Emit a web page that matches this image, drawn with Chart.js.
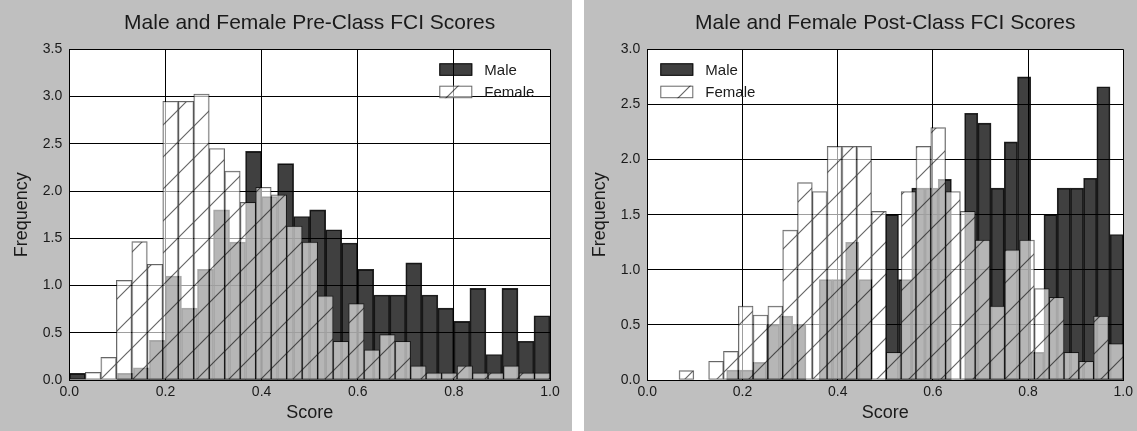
<!DOCTYPE html>
<html>
<head>
<meta charset="utf-8">
<script src="https://cdn.jsdelivr.net/npm/chart.js@4.4.1/dist/chart.umd.min.js"></script>
<style>
  body { margin: 0; background: #fff; width: 1137px; height: 431px; overflow: hidden; position: relative; }
  .panel { position: absolute; top: 0; height: 431px; background: #bfbfbf; }
  #prePanel { left: 0; width: 572px; }
  #postPanel { left: 584px; width: 553px; }
</style>
</head>
<body>
<div class="panel" id="prePanel"><canvas id="preChart" width="572" height="431"></canvas></div>
<div class="panel" id="postPanel"><canvas id="postChart" width="553" height="431"></canvas></div>
<script>
'use strict';

// histogram data, 30 bins per series, density values
var seriesNames = ['Male', 'Female'];
var xTickStep = 0.2;
var yTickStep = 0.5;

var preTitle = 'Male and Female Pre-Class FCI Scores';
var preYMax = 3.5;
var preMaleRange = [0, 1];
var preMale = [0.07, 0, 0, 0.07, 0.13, 0.42, 1.10, 0.76, 1.17, 1.80,
  1.46, 2.42, 1.94, 2.29, 1.73, 1.80, 1.59, 1.45, 1.17, 0.90,
  0.90, 1.24, 0.90, 0.76, 0.62, 0.97, 0.27, 0.97, 0.41, 0.68];
var preFemaleRange = [1 / 30, 1];
var preFemale = [0.08, 0.24, 1.055, 1.465, 1.225, 2.95, 2.95, 3.025, 2.45, 2.21,
  1.88, 2.04, 1.96, 1.63, 1.46, 0.89, 0.41, 0.81, 0.32, 0.48,
  0.41, 0.15, 0.075, 0.075, 0.15, 0.075, 0.075, 0.15, 0.075, 0.075];

var postTitle = 'Male and Female Post-Class FCI Scores';
var postYMax = 3.0;
var postMaleRange = [1 / 6, 1];
var postMale = [0.09, 0.09, 0.16, 0.50, 0.58, 0.50, 0, 0.91, 0.91, 1.25,
  0.91, 0, 1.50, 0.91, 1.74, 1.74, 1.82, 0, 2.42, 2.33,
  1.74, 2.16, 2.75, 0.25, 1.50, 1.74, 1.74, 1.83, 2.66, 1.32];
var postFemaleRange = [1 / 15, 1];
var postFemale = [0.085, 0, 0.17, 0.26, 0.67, 0.59, 0.67, 1.36, 1.79, 1.71,
  2.12, 2.12, 2.12, 1.53, 0.25, 1.71, 2.12, 2.29, 1.71, 1.53,
  1.27, 0.67, 1.18, 1.27, 0.83, 0.75, 0.25, 0.17, 0.58, 0.33];

var FONT = '"Liberation Sans", Arial, sans-serif';
var TEXT = '#1a1a1a';
var maleFill = 'rgba(0,0,0,0.75)';
var maleEdge = 'rgba(0,0,0,0.85)';
var femaleEdge = 'rgba(0,0,0,0.6)';

function toPoints(range, values) {
  var w = (range[1] - range[0]) / values.length;
  return values.map(function (v, i) {
    return { x: range[0] + (i + 0.5) * w, y: v };
  });
}

// white, see-through fill with '/' hatching
function makeHatch() {
  var size = 32;
  var c = document.createElement('canvas');
  c.width = size;
  c.height = size;
  var g = c.getContext('2d');
  g.fillStyle = 'rgba(255,255,255,0.62)';
  g.fillRect(0, 0, size, size);
  g.strokeStyle = 'rgba(0,0,0,0.6)';
  g.lineWidth = 1.2;
  g.beginPath();
  g.moveTo(-2, size + 2); g.lineTo(size + 2, -2);
  g.moveTo(-2, 2); g.lineTo(2, -2);
  g.moveTo(size - 2, size + 2); g.lineTo(size + 2, size - 2);
  g.stroke();
  return g.createPattern(c, 'repeat');
}

var plotBg = {
  id: 'plotBg',
  beforeDraw: function (chart) {
    var a = chart.chartArea;
    var ctx = chart.ctx;
    ctx.save();
    ctx.fillStyle = '#fff';
    ctx.fillRect(a.left, a.top, a.right - a.left, a.bottom - a.top);
    ctx.restore();
  }
};

var titleAndLegend = {
  id: 'titleAndLegend',
  afterDraw: function (chart, args, opts) {
    var a = chart.chartArea;
    var ctx = chart.ctx;
    ctx.save();
    ctx.fillStyle = TEXT;
    ctx.font = '21px ' + FONT;
    ctx.textAlign = 'center';
    ctx.textBaseline = 'middle';
    ctx.fillText(opts.title, (a.left + a.right) / 2, 23);

    // legend inside the axes
    var lx = a.left + opts.legendX;
    var ly = a.top + 14;
    ctx.font = '15px ' + FONT;
    ctx.textAlign = 'left';
    for (var i = 0; i < chart.data.datasets.length; i++) {
      var ds = chart.data.datasets[i];
      var y = ly + i * 22.4;
      ctx.fillStyle = ds.backgroundColor;
      ctx.fillRect(lx, y, 33, 12.5);
      ctx.strokeStyle = ds.borderColor;
      ctx.lineWidth = 1;
      ctx.strokeRect(lx + 0.5, y + 0.5, 32, 11.5);
      ctx.fillStyle = TEXT;
      ctx.fillText(ds.label, lx + 45, y + 7.5);
    }
    ctx.restore();
  }
};

function drawChart(canvasId, title, yMax, maleRange, male, femaleRange, female, box) {
  var ctx = document.getElementById(canvasId);
  var hatch = makeHatch();
  var tickFont = { family: FONT, size: 14 };
  var labelFont = { family: FONT, size: 18 };
  var gridStyle = { color: '#000', lineWidth: 1, drawTicks: false, offset: false };

  return new Chart(ctx, {
    type: 'bar',
    data: {
      datasets: [
        {
          label: seriesNames[0],
          data: toPoints(maleRange, male),
          xAxisID: 'x',
          backgroundColor: maleFill,
          borderColor: maleEdge,
          borderWidth: 1,
          borderSkipped: false,
          grouped: false,
          barPercentage: 1,
          categoryPercentage: 1,
          order: 2
        },
        {
          label: seriesNames[1],
          data: toPoints(femaleRange, female),
          xAxisID: 'xf',
          backgroundColor: hatch,
          borderColor: femaleEdge,
          borderWidth: 1,
          borderSkipped: false,
          grouped: false,
          barPercentage: 1,
          categoryPercentage: 1,
          order: 1
        }
      ]
    },
    options: {
      responsive: false,
      animation: false,
      layout: { padding: { left: 0, right: box.right, top: 49.3, bottom: 0 } },
      plugins: {
        legend: { display: false },
        tooltip: { enabled: false },
        titleAndLegend: { title: title, legendX: box.legendX }
      },
      scales: {
        x: {
          type: 'linear',
          min: 0,
          max: 1,
          offset: false,
          grid: gridStyle,
          border: { color: '#000', width: 1 },
          ticks: {
            stepSize: xTickStep,
            padding: 4,
            maxRotation: 0,
            color: TEXT,
            font: tickFont,
            callback: function (v) { return v.toFixed(1); }
          },
          title: { display: true, text: 'Score', color: TEXT, font: labelFont, padding: { top: 0, bottom: 7 } },
          afterFit: function (s) { s.height = 51; }
        },
        xf: { type: 'linear', display: false, min: 0, max: 1, offset: false },
        y: {
          min: 0,
          max: yMax,
          grid: gridStyle,
          border: { color: '#000', width: 1 },
          ticks: {
            stepSize: yTickStep,
            padding: 7,
            color: TEXT,
            font: tickFont,
            callback: function (v) { return v.toFixed(1); }
          },
          title: { display: true, text: 'Frequency', color: TEXT, font: labelFont, padding: { top: box.yTitlePad, bottom: 0 } },
          afterFit: function (s) { s.width = box.yWidth; }
        }
      }
    },
    plugins: [plotBg, titleAndLegend]
  });
}

drawChart('preChart', preTitle, preYMax, preMaleRange, preMale, preFemaleRange, preFemale,
  { right: 22, yWidth: 69.3, yTitlePad: 11, legendX: 370 });
drawChart('postChart', postTitle, postYMax, postMaleRange, postMale, postFemaleRange, postFemale,
  { right: 9.5, yWidth: 63.3, yTitlePad: 5, legendX: 13 });
</script>
</body>
</html>
